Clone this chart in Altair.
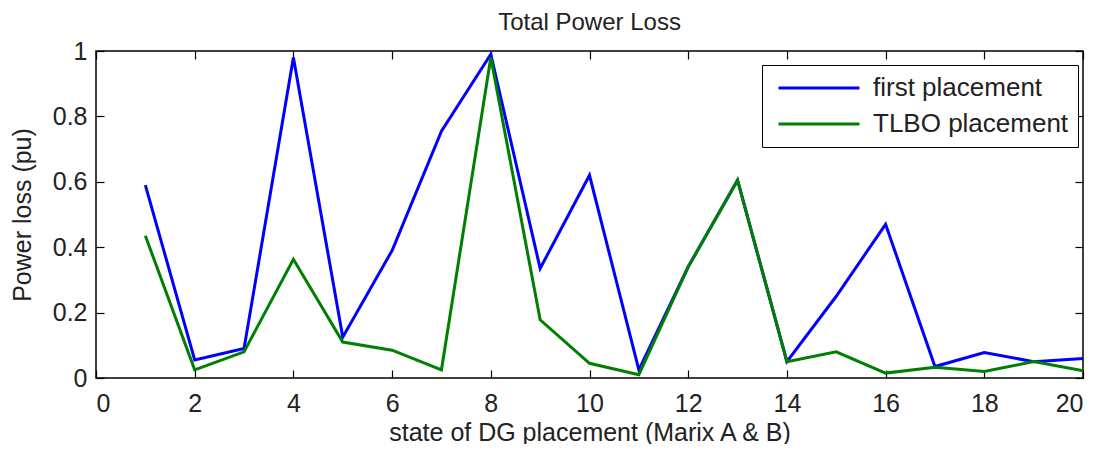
import altair as alt
import pandas as pd

states = list(range(1, 21))
first_placement = [0.59, 0.055, 0.09, 0.98, 0.125, 0.39, 0.755, 0.99, 0.335, 0.62,
                   0.025, 0.34, 0.605, 0.05, 0.25, 0.47, 0.035, 0.078, 0.05, 0.06]
tlbo_placement = [0.435, 0.025, 0.08, 0.363, 0.11, 0.085, 0.025, 0.98, 0.178, 0.045,
                  0.01, 0.34, 0.605, 0.05, 0.08, 0.015, 0.033, 0.02, 0.05, 0.022]
series_names = ["first placement", "TLBO placement"]
series_colors = ["#0000FF", "#008000"]
x_ticks = list(range(0, 21, 2))
y_ticks = [0, 0.2, 0.4, 0.6, 0.8, 1]

rows = []
for s, vals in zip(series_names, [first_placement, tlbo_placement]):
    for x, v in zip(states, vals):
        rows.append({"state": x, "loss": v, "series": s})
df = pd.DataFrame(rows)

FONT = "Liberation Sans"
FS = 25

xscale = alt.Scale(domain=[0, 20], nice=False, zero=False)
yscale = alt.Scale(domain=[0, 1], nice=False, zero=False)
color = alt.Color(
    "series:N",
    scale=alt.Scale(domain=series_names, range=series_colors),
    sort=series_names,
    legend=alt.Legend(
        orient="none", legendX=666, legendY=14, title=None,
        symbolType="stroke", symbolSize=6561, symbolStrokeWidth=3,
        clipHeight=28, symbolOffset=6,
        labelFont=FONT, labelFontSize=26, labelColor="#222222", labelOffset=12,
        strokeColor="#000000", fillColor="#ffffff", padding=9, rowPadding=8,
        labelLimit=400,
    ),
)

def tick_axis(orient, values):
    return alt.Axis(orient=orient, offset=-8, tickSize=8, ticks=True, labels=False,
                    domain=False, grid=False, title=None, values=values,
                    tickColor="#000000", tickWidth=1.2)

blue = alt.Chart(df).transform_filter(alt.datum.series == series_names[0]).mark_line(
    strokeWidth=3).encode(
    x=alt.X("state:Q", scale=xscale,
            axis=alt.Axis(orient="bottom", values=x_ticks, ticks=False, domain=False, grid=False,
                          labelFont=FONT, labelFontSize=FS, labelColor="#222222", labelPadding=13,
                          title="state of DG placement (Marix A & B)", titleFont=FONT,
                          titleFontSize=FS, titleFontWeight="normal", titleColor="#222222",
                          titlePadding=4)),
    y=alt.Y("loss:Q", scale=yscale,
            axis=alt.Axis(orient="left", values=y_ticks, ticks=False, domain=False, grid=False,
                          labelFont=FONT, labelFontSize=FS, labelColor="#222222", labelPadding=9,
                          labelExpr="datum.value == 0 ? '0' : datum.value == 1 ? '1' : format(datum.value, '.1f')",
                          title="Power loss (pu)", titleFont=FONT, titleFontSize=FS,
                          titleFontWeight="normal", titleColor="#222222", titlePadding=17)),
    color=color,
)

green = alt.Chart(df).transform_filter(alt.datum.series == series_names[1]).mark_line(
    strokeWidth=3).encode(
    x=alt.X("state:Q", scale=xscale, axis=None),
    y=alt.Y("loss:Q", scale=yscale, axis=None),
    color=color,
)

ticks_a = alt.Chart(df).mark_line(opacity=0).encode(
    x=alt.X("state:Q", scale=xscale, axis=tick_axis("top", x_ticks)),
    y=alt.Y("loss:Q", scale=yscale, axis=tick_axis("right", y_ticks)),
)
ticks_b = alt.Chart(df).mark_line(opacity=0).encode(
    x=alt.X("state:Q", scale=xscale, axis=tick_axis("bottom", x_ticks)),
    y=alt.Y("loss:Q", scale=yscale, axis=tick_axis("left", y_ticks)),
)

chart = alt.layer(blue, green, ticks_a, ticks_b).resolve_axis(
    x="independent", y="independent"
).properties(
    width=987, height=327,
    title=alt.TitleParams("Total Power Loss", font=FONT, fontSize=24, fontWeight="normal",
                          color="#222222", anchor="middle", frame="group",
                          baseline="alphabetic", offset=-15),
    autosize=alt.AutoSizeParams(type="none"),
    padding={"left": 88, "top": 43, "right": 5, "bottom": 66},
    background="#ffffff",
).configure_view(
    stroke="#000000", strokeWidth=1.5
)

chart.save("out.html", embed_options={"renderer": "svg", "actions": False})
